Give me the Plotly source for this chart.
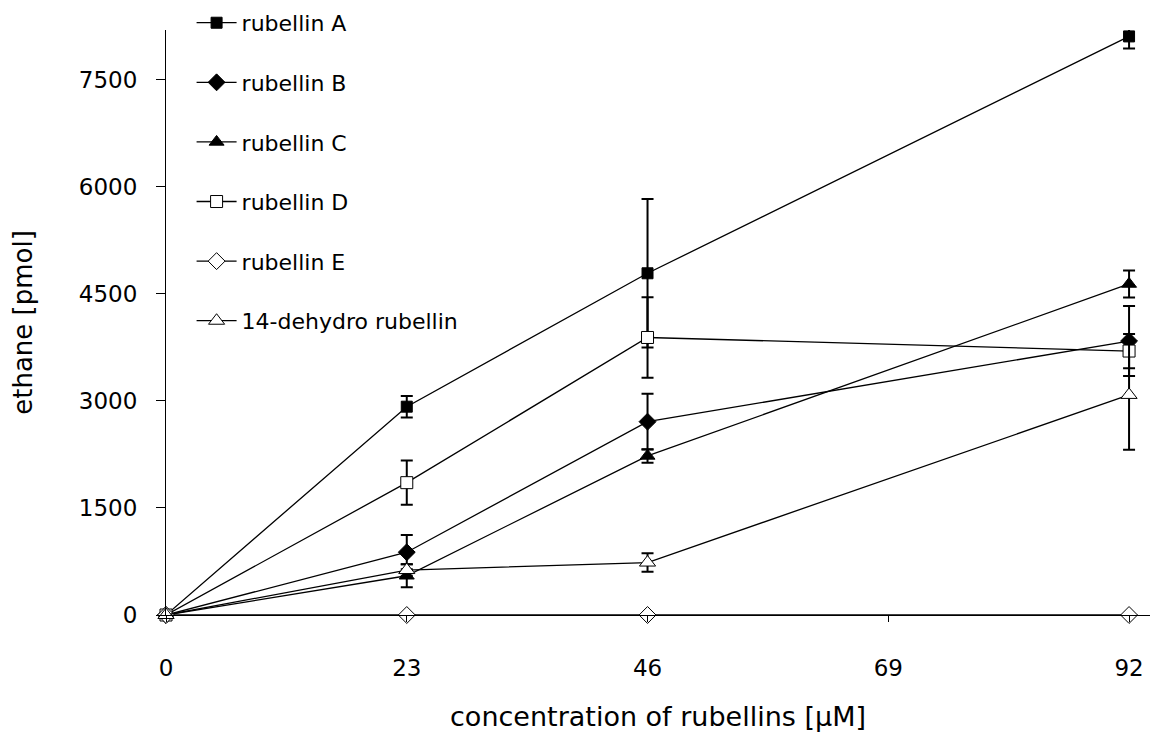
import plotly.graph_objects as go

conc = [0, 23, 46, 92]

names = ["rubellin A", "rubellin B", "rubellin C", "rubellin D", "rubellin E", "14-dehydro rubellin"]

rub_a = [0, 2920, 4790, 8110]
rub_a_err = [0, 150, 1040, 170]
rub_b = [0, 880, 2710, 3840]
rub_b_err = [0, 240, 390, 490]
rub_c = [0, 550, 2230, 4640]
rub_c_err = [0, 160, 95, 190]
rub_d = [0, 1855, 3890, 3700]
rub_d_err = [0, 310, 565, 240]
rub_e = [0, 0, 0, 0]
rub_e_err = [0, 0, 0, 0]
dehydro = [0, 630, 735, 3085]
dehydro_err = [0, 80, 130, 770]

x_ticks = [0, 23, 46, 69, 92]
y_ticks = [0, 1500, 3000, 4500, 6000, 7500]

series = [
    (rub_a, rub_a_err, "square", "black", 11),
    (rub_b, rub_b_err, "diamond", "black", 13),
    (rub_c, rub_c_err, "triangle-up", "black", 13),
    (rub_d, rub_d_err, "square", "white", 12),
    (rub_e, rub_e_err, "diamond", "white", 13),
    (dehydro, dehydro_err, "triangle-up", "white", 14),
]

FONT = "DejaVu Sans, sans-serif"

fig = go.Figure()
for i, (name, (vals, errs, sym, fill, sz)) in enumerate(zip(names, series)):
    fig.add_trace(go.Scatter(
        x=conc, y=vals, name=name, mode="lines+markers",
        legendgroup=f"g{i}",
        line=dict(color="black", width=1.3),
        marker=dict(symbol=sym, size=sz, color=fill, line=dict(color="black", width=1)),
        error_y=dict(type="data", array=errs, visible=(i != 4), color="black", thickness=2, width=6),
        cliponaxis=False,
    ))

fig.update_layout(
    width=1150, height=739,
    margin=dict(l=166, r=0, t=30, b=124),
    paper_bgcolor="white", plot_bgcolor="white",
    font=dict(family=FONT, color="black", size=22),
    showlegend=True,
    legend=dict(
        x=0.026, y=1.048, xanchor="left", yanchor="top",
        font=dict(family=FONT, size=22, color="black"),
        bgcolor="rgba(0,0,0,0)",
        tracegroupgap=28, traceorder="grouped",
        itemwidth=40,
    ),
    xaxis=dict(
        range=[0, 94], tickvals=x_ticks, ticktext=[str(v) for v in x_ticks],
        showline=True, linecolor="black", linewidth=1,
        ticks="outside", ticklen=6, tickcolor="black", tickwidth=1,
        showgrid=False, zeroline=False,
        tickfont=dict(family=FONT, size=23),
        ticklabelstandoff=26,
        title=dict(text="concentration of rubellins [μM]", font=dict(family=FONT, size=27), standoff=27),
    ),
    yaxis=dict(
        range=[0, 8200], tickvals=y_ticks, ticktext=[str(v) for v in y_ticks],
        showline=True, linecolor="black", linewidth=1,
        ticks="outside", ticklen=9, tickcolor="black", tickwidth=1,
        showgrid=False, zeroline=False,
        tickfont=dict(family=FONT, size=23),
        ticklabelstandoff=14,
        title=dict(text="ethane [pmol]", font=dict(family=FONT, size=26), standoff=38),
    ),
)

fig.write_html("out.html")
